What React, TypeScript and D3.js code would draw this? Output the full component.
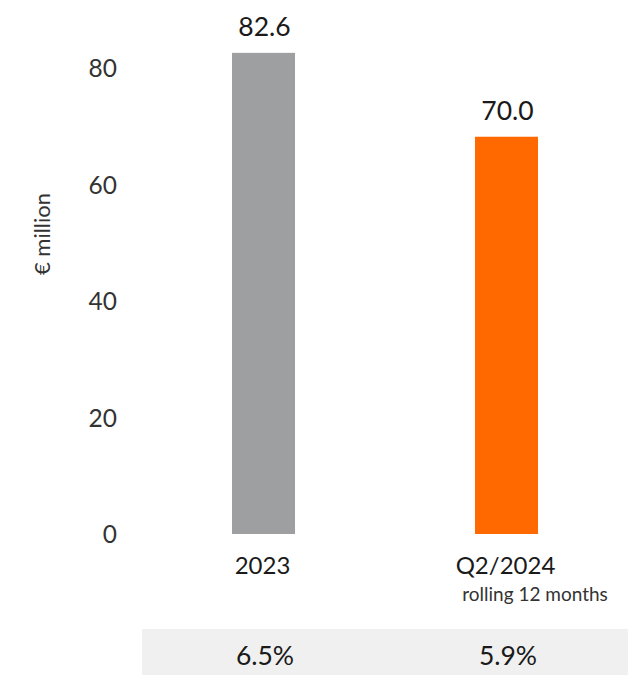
import React from "react";
import * as d3 from "d3";

const categories = ["2023", "Q2/2024"];
const subLabels = ["", "rolling 12 months"];
const barValues = [82.6, 68.2];
const valueLabels = ["82.6", "70.0"];
const margins = ["6.5%", "5.9%"];
const yTicks = [0, 20, 40, 60, 80];
const barColors = ["#9d9fa0", "#ff6900"];

const W = 641;
const H = 677;
const FONT = "Lato, 'Noto Sans', sans-serif";

export default function App() {
  const y = d3.scaleLinear().domain([0, 80]).range([534, 68]);
  const x = d3.scalePoint<string>().domain(categories).range([263.5, 506.5]);
  const bw = 63;

  return (
    <svg
      width={W}
      height={H}
      style={{ position: "absolute", left: 0, top: 0 }}
      fontFamily={FONT}
      fontWeight={400}
    >
      <rect x={0} y={0} width={W} height={H} fill="#fff" />
      {yTicks.map((t) => (
        <text
          key={t}
          x={117}
          y={y(t) + 9}
          textAnchor="end"
          fontSize={24.5}
          fill="#333"
        >
          {t}
        </text>
      ))}
      <text
        transform={`translate(50,234) rotate(-90)`}
        textAnchor="middle"
        fontSize={22}
        fill="#333"
      >
        € million
      </text>
      {categories.map((c, i) => (
        <g key={c}>
          <rect
            x={(x(c) as number) - bw / 2}
            y={y(barValues[i])}
            width={bw}
            height={y(0) - y(barValues[i])}
            fill={barColors[i]}
          />
          <text
            x={(x(c) as number) + 1}
            y={y(barValues[i]) - 17}
            textAnchor="middle"
            fontSize={26.5}
            fill="#1a1a1a"
          >
            {valueLabels[i]}
          </text>
          <text
            x={(x(c) as number) - 1}
            y={574}
            textAnchor="middle"
            fontSize={24}
            fill="#1a1a1a"
          >
            {c}
          </text>
          {subLabels[i] && (
            <text
              x={(x(c) as number) + 28.5}
              y={601}
              textAnchor="middle"
              fontSize={19}
              fill="#333"
            >
              {subLabels[i]}
            </text>
          )}
        </g>
      ))}
      <rect x={142} y={629} width={486} height={46} fill="#f0f0f0" />
      {categories.map((c, i) => (
        <text
          key={"m" + c}
          x={(x(c) as number) + 1.5}
          y={665}
          textAnchor="middle"
          fontSize={26.5}
          fill="#1a1a1a"
        >
          {margins[i]}
        </text>
      ))}
    </svg>
  );
}
